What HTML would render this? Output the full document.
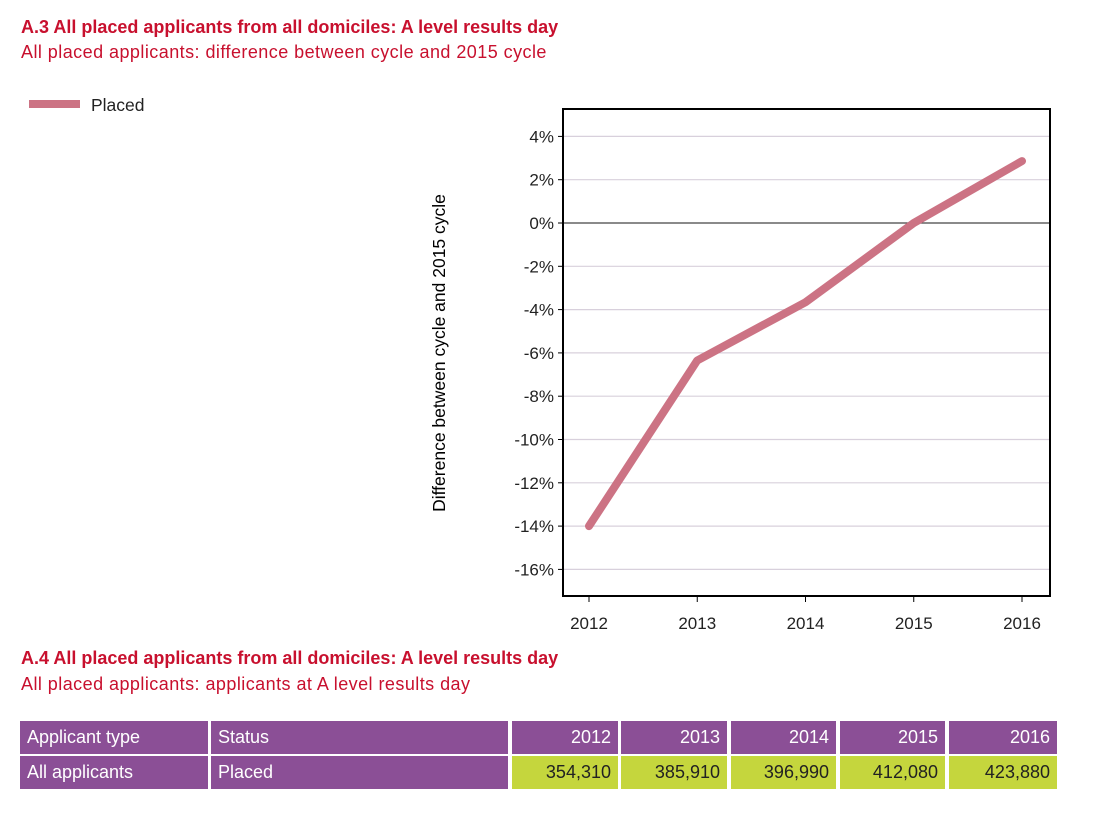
<!DOCTYPE html>
<html><head><meta charset="utf-8"><style>
body{margin:0;width:1096px;height:820px;background:#fff;font-family:"Liberation Sans",sans-serif;position:relative;overflow:hidden}
.t{position:absolute;left:21px;color:#c8102e;font-size:18px;white-space:nowrap}
.b{font-weight:bold}
.s{letter-spacing:0.45px}
.cell{position:absolute;height:33px;line-height:33px;color:#fff;font-size:18px;padding:0 7px;box-sizing:border-box;white-space:nowrap}
.p{background:#8b4f96}.g{background:#c5d63d;color:#222;text-align:right}.r{text-align:right}
</style></head><body>
<div class="t b" style="top:17px">A.3 All placed applicants from all domiciles: A level results day</div>
<div class="t s" style="top:42px">All placed applicants: difference between cycle and 2015 cycle</div>
<svg width="1096" height="660" style="position:absolute;left:0;top:0" id="chart"></svg>
<div class="t b" style="top:648px">A.4 All placed applicants from all domiciles: A level results day</div>
<div class="t s" style="top:674px">All placed applicants: applicants at A level results day</div>
<div id="tbl"></div>
<script>
const years=["2012","2013","2014","2015","2016"];
const placedPct=[-14.0,-6.35,-3.66,0,2.86];
const yTicks=[4,2,0,-2,-4,-6,-8,-10,-12,-14,-16];
const counts=["354,310","385,910","396,990","412,080","423,880"];
const NS="http://www.w3.org/2000/svg";
const svg=document.getElementById('chart');
const L=563,R=1050,T=109,B=596;
const xs=i=>589+i*(1022-589)/(years.length-1);
const ys=v=>223-v*21.65;
function mk(tag,a){const e=document.createElementNS(NS,tag);for(const k in a)e.setAttribute(k,a[k]);svg.appendChild(e);return e;}
yTicks.forEach(v=>{
 const l=mk('line',{x1:L,x2:R,y1:ys(v),y2:ys(v),stroke:v===0?'#444':'#d8d0dc','stroke-width':v===0?1.3:1.2});
 
 
 mk('line',{x1:L-5,x2:L,y1:ys(v),y2:ys(v),stroke:'#000'});
 const t=mk('text',{x:L-9,y:ys(v)+6,'text-anchor':'end','font-size':17,fill:'#222','font-family':'Liberation Sans'});
 t.textContent=v+'%';
 
 
});
years.forEach((y,i)=>{
 mk('line',{x1:xs(i),x2:xs(i),y1:B,y2:B+6,stroke:'#000'});
 const t=mk('text',{x:xs(i),y:B+33,'text-anchor':'middle','font-size':17,fill:'#222','font-family':'Liberation Sans'});
 t.textContent=y;
 
 
});
const fr=mk('rect',{x:L,y:T,width:R-L,height:B-T,fill:'none',stroke:'#000','stroke-width':2});


const pl=mk('polyline',{points:placedPct.map((v,i)=>xs(i)+','+ys(v)).join(' '),fill:'none',stroke:'#cc7384','stroke-width':8,'stroke-linecap':'round','stroke-linejoin':'round'});


const yt=mk('text',{transform:'translate(445,353) rotate(-90)','text-anchor':'middle','font-size':17.5,fill:'#000','font-family':'Liberation Sans'});
yt.textContent='Difference between cycle and 2015 cycle';


const lg=mk('line',{x1:29,x2:80,y1:104,y2:104,stroke:'#cc7384','stroke-width':8});


const lt=mk('text',{x:91,y:111,'font-size':17.5,fill:'#222','font-family':'Liberation Sans'});
lt.textContent='Placed';


const tbl=document.getElementById('tbl');
const cols=[[20,188],[211,297],[512,106],[621,106],[731,105],[840,105],[949,108]];
function cell(x,w,y,cls,txt,name){const d=document.createElement('div');d.className='cell '+cls;d.style.left=x+'px';d.style.width=w+'px';d.style.top=y+'px';d.textContent=txt;
 
 
 tbl.appendChild(d);}
cell(cols[0][0],cols[0][1],721,'p','Applicant type','header-applicant-type');
cell(cols[1][0],cols[1][1],721,'p','Status','header-status');
years.forEach((y,i)=>cell(cols[i+2][0],cols[i+2][1],721,'p r',y,'header-year'));
cell(cols[0][0],cols[0][1],756,'p','All applicants','cell-applicant-type');
cell(cols[1][0],cols[1][1],756,'p','Placed','cell-status');
counts.forEach((c,i)=>cell(cols[i+2][0],cols[i+2][1],756,'g',c,'cell-count'));
</script>
</body></html>
